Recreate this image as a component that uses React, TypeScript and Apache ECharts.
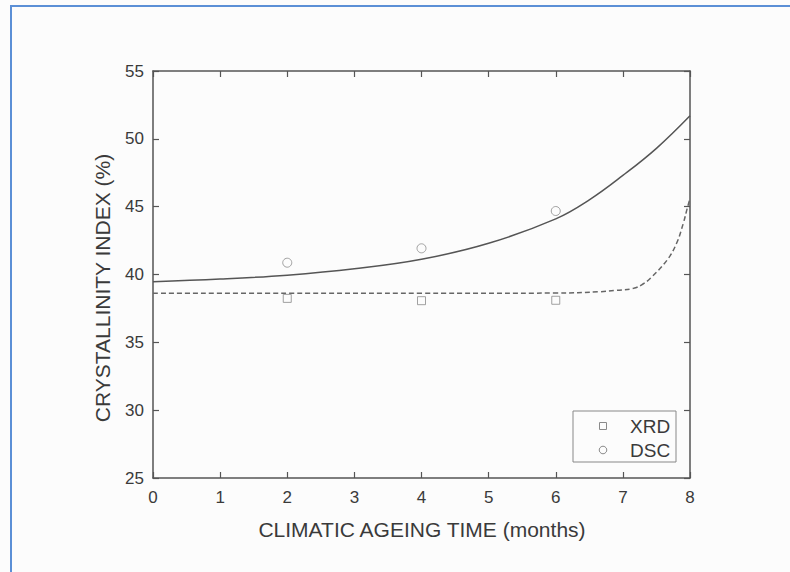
import React, { useEffect, useRef } from "react";
import * as echarts from "echarts";

// Measured points
const months = [2, 4, 6];
const xrdValues = [38.24, 38.07, 38.1];
const dscValues = [40.87, 41.93, 44.68];

// Fitted curves
const dscFitX = [0, 1, 2, 3, 4, 5, 6, 6.5, 7, 7.5, 8];
const dscFitY = [39.47, 39.66, 39.95, 40.42, 41.12, 42.3, 44.1, 45.5, 47.3, 49.3, 51.7];
const xrdFitX = [0, 2, 4, 6, 6.66, 6.9, 7.16, 7.3, 7.41, 7.66, 7.8, 7.9, 7.96, 8];
const xrdFitY = [38.62, 38.62, 38.62, 38.63, 38.73, 38.83, 38.98, 39.3, 39.72, 41.07, 42.3, 43.77, 44.9, 45.6];

const xTitle = "CLIMATIC AGEING TIME (months)";
const yTitle = "CRYSTALLINITY INDEX (%)";
const seriesNames = ["XRD", "DSC"];

const FONT = "'Liberation Sans', Arial, sans-serif";
const AXIS_COLOR = "#555";
const TEXT_COLOR = "#3a3a3a";
const MARK_COLOR = "#8a8a8a";

export default function App() {
  const ref = useRef<HTMLDivElement>(null);

  useEffect(() => {
    if (!ref.current) return;
    const chart = echarts.init(ref.current, undefined, { renderer: "svg" });

    const axisCommon = {
      type: "value" as const,
      axisLine: { show: true, onZero: false, lineStyle: { color: AXIS_COLOR, width: 1.5 } },
      axisTick: { show: true, inside: true, length: 6, lineStyle: { color: AXIS_COLOR, width: 1.2 } },
      splitLine: { show: false },
    };

    const zip = (xs: number[], ys: number[]) => xs.map((x, i) => [x, ys[i]]);

    // legend layout (pixels)
    const lgX = 573, lgY = 411, lgW = 103, lgH = 51;
    const lgMarkX = 603, lgTextX = 630, lgRow1 = 426, lgRow2 = 450;

    chart.setOption({
      animation: false,
      backgroundColor: "#fcfcfc",
      grid: { left: 153, right: 100, top: 71, bottom: 94, containLabel: false },
      xAxis: [
        {
          ...axisCommon,
          min: 0,
          max: 8,
          interval: 1,
          position: "bottom",
          axisLabel: { margin: 11, fontSize: 17, color: TEXT_COLOR, fontFamily: FONT },
        },
        {
          ...axisCommon,
          min: 0,
          max: 8,
          interval: 1,
          position: "top",
          axisLabel: { show: false },
        },
      ],
      yAxis: [
        {
          ...axisCommon,
          min: 25,
          max: 55,
          interval: 5,
          position: "left",
          axisLabel: { margin: 9, fontSize: 17, color: TEXT_COLOR, fontFamily: FONT },
        },
        {
          ...axisCommon,
          min: 25,
          max: 55,
          interval: 5,
          position: "right",
          axisLabel: { show: false },
        },
      ],
      series: [
        {
          name: "XRD fit",
          type: "line",
          data: zip(xrdFitX, xrdFitY),
          smooth: 0.4,
          showSymbol: false,
          symbol: "none",
          lineStyle: { color: "#666", width: 1.5, type: [5, 3] },
          silent: true,
          z: 3,
        },
        {
          name: "DSC fit",
          type: "line",
          data: zip(dscFitX, dscFitY),
          smooth: 0.4,
          showSymbol: false,
          symbol: "none",
          lineStyle: { color: "#555", width: 1.5 },
          silent: true,
          z: 3,
        },
        {
          name: seriesNames[0],
          type: "scatter",
          data: zip(months, xrdValues),
          symbol: "rect",
          symbolSize: 8,
          itemStyle: { color: "transparent", borderColor: MARK_COLOR, borderWidth: 1 },
          z: 4,
        },
        {
          name: seriesNames[1],
          type: "scatter",
          data: zip(months, dscValues),
          symbol: "circle",
          symbolSize: 9,
          itemStyle: { color: "transparent", borderColor: MARK_COLOR, borderWidth: 1 },
          z: 4,
        },
      ],
      graphic: [
        {
          type: "line",
          shape: { x1: 10, y1: 6, x2: 790, y2: 6 },
          style: { stroke: "#5b8fd6", lineWidth: 2 },
        },
        {
          type: "line",
          shape: { x1: 11, y1: 5, x2: 11, y2: 572 },
          style: { stroke: "#5b8fd6", lineWidth: 2 },
        },
        {
          type: "text",
          x: 422,
          y: 529,
          style: {
            text: xTitle,
            font: `21px ${FONT}`,
            fill: TEXT_COLOR,
            textAlign: "center",
            textVerticalAlign: "middle",
          },
        },
        {
          type: "text",
          x: 102,
          y: 288,
          rotation: Math.PI / 2,
          style: {
            text: yTitle,
            font: `21px ${FONT}`,
            fill: TEXT_COLOR,
            textAlign: "center",
            textVerticalAlign: "middle",
          },
        },
        // legend
        {
          type: "rect",
          shape: { x: lgX, y: lgY, width: lgW, height: lgH },
          style: { fill: "#fcfcfc", stroke: "#888", lineWidth: 1 },
          z: 10,
        },
        {
          type: "rect",
          shape: { x: lgMarkX - 3.5, y: lgRow1 - 3.5, width: 7, height: 7 },
          style: { fill: "none", stroke: MARK_COLOR, lineWidth: 1 },
          z: 11,
        },
        {
          type: "circle",
          shape: { cx: lgMarkX, cy: lgRow2, r: 3.8 },
          style: { fill: "none", stroke: MARK_COLOR, lineWidth: 1 },
          z: 11,
        },
        {
          type: "text",
          x: lgTextX,
          y: lgRow1,
          style: {
            text: seriesNames[0],
            font: `19px ${FONT}`,
            fill: TEXT_COLOR,
            textAlign: "left",
            textVerticalAlign: "middle",
          },
          z: 11,
        },
        {
          type: "text",
          x: lgTextX,
          y: lgRow2,
          style: {
            text: seriesNames[1],
            font: `19px ${FONT}`,
            fill: TEXT_COLOR,
            textAlign: "left",
            textVerticalAlign: "middle",
          },
          z: 11,
        },
      ],
    });

    return () => chart.dispose();
  }, []);

  return (
    <div
      ref={ref}
      style={{ position: "fixed", left: 0, top: 0, width: 790, height: 572 }}
    />
  );
}
